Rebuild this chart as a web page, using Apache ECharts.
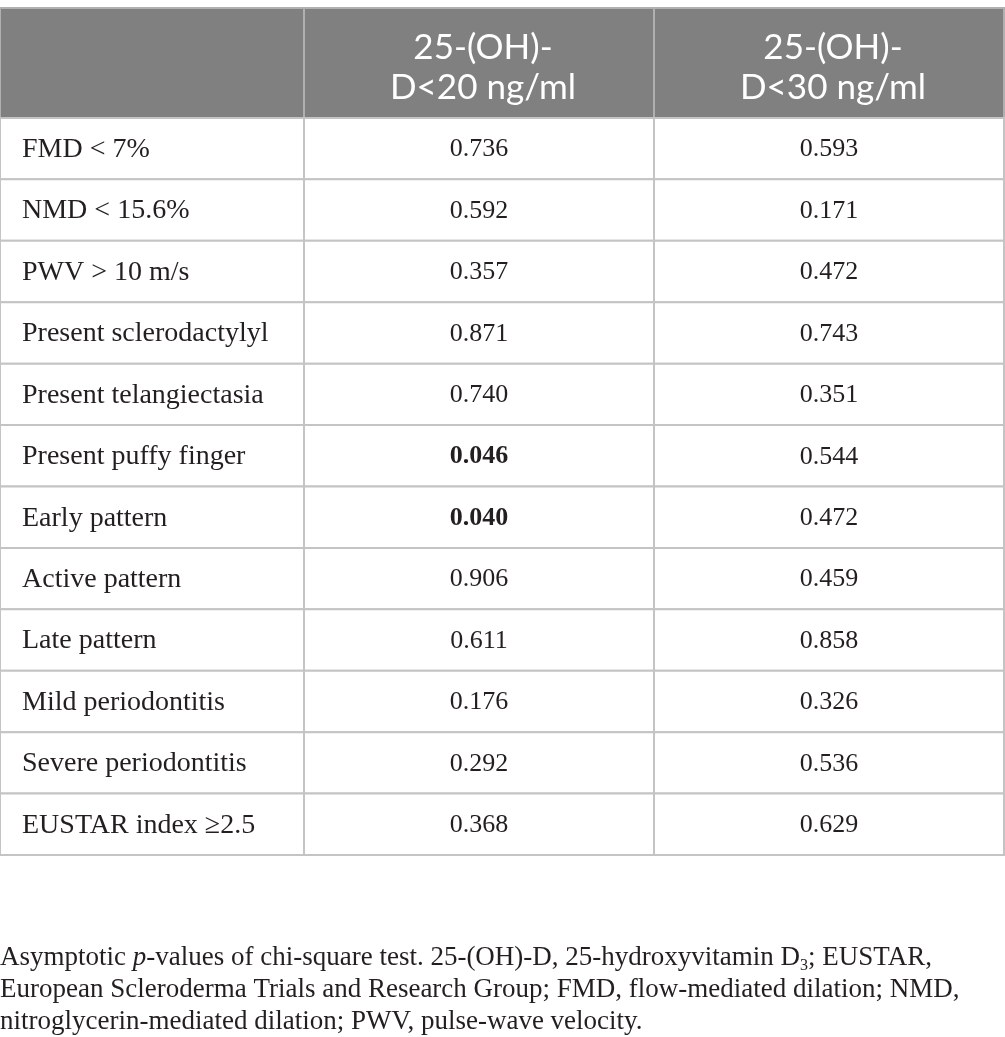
<!DOCTYPE html>
<html>
<head>
<meta charset="utf-8">
<script src="https://cdn.jsdelivr.net/npm/echarts@6/dist/echarts.min.js"></script>
<style>
html, body { margin: 0; padding: 0; background: #fff; }
#main { width: 1005px; height: 1037px; }
</style>
</head>
<body>
<div id="main"></div>
<script>
// table content
const columns = ['25-(OH)-\nD<20 ng/ml', '25-(OH)-\nD<30 ng/ml'];
const rowLabels = [
	'FMD < 7%', 'NMD < 15.6%', 'PWV > 10 m/s', 'Present sclerodactylyl',
	'Present telangiectasia', 'Present puffy finger', 'Early pattern',
	'Active pattern', 'Late pattern', 'Mild periodontitis',
	'Severe periodontitis', 'EUSTAR index \u22652.5'
];
const pBelow20 = ['0.736', '0.592', '0.357', '0.871', '0.740', '0.046', '0.040', '0.906', '0.611', '0.176', '0.292', '0.368'];
const pBelow30 = ['0.593', '0.171', '0.472', '0.743', '0.351', '0.544', '0.472', '0.459', '0.858', '0.326', '0.536', '0.629'];
const significant = 0.05;

// layout (axis units)
const colEdges = [0, 304, 654, 1004];
const headerSpan = 1.79;

const serif = '"Liberation Serif", "DejaVu Serif", serif';
const sans = 'Lato, "Open Sans", sans-serif';
const lineColor = '#c4c4c4';

let cells = [];
rowLabels.forEach(function (label, r) {
	cells.push([0, r, label, 0]);
	cells.push([1, r, pBelow20[r], parseFloat(pBelow20[r]) < significant ? 1 : 0]);
	cells.push([2, r, pBelow30[r], parseFloat(pBelow30[r]) < significant ? 1 : 0]);
});
let headerCells = [[0, -headerSpan, ''], [1, -headerSpan, columns[0]], [2, -headerSpan, columns[1]]];

function renderBody(params, api) {
	let c = api.value(0), r = api.value(1);
	let p0 = api.coord([colEdges[c], r]);
	let p1 = api.coord([colEdges[c + 1], r + 1]);
	let w = p1[0] - p0[0], h = p1[1] - p0[1];
	let item = cells[params.dataIndex];
	let left = c === 0;
	return {
		type: 'group',
		children: [{
			type: 'rect',
			shape: { x: p0[0], y: p0[1], width: w, height: h },
			style: { fill: '#fff', stroke: lineColor, lineWidth: 2 }
		}, {
			type: 'text',
			x: left ? p0[0] + 22 : p0[0] + w / 2,
			y: p0[1] + h / 2 + 1,
			style: {
				text: item[2],
				fill: '#231f20',
				font: (item[3] ? 'bold ' : '') + (left ? '28px ' : '26px ') + serif,
				align: left ? 'left' : 'center',
				verticalAlign: 'middle'
			}
		}]
	};
}

function renderHeader(params, api) {
	let c = api.value(0), r = api.value(1);
	let p0 = api.coord([colEdges[c], r]);
	let p1 = api.coord([colEdges[c + 1], 0]);
	let w = p1[0] - p0[0], h = p1[1] - p0[1];
	return {
		type: 'group',
		children: [{
			type: 'rect',
			shape: { x: p0[0], y: p0[1], width: w, height: h },
			style: { fill: '#808080', stroke: '#b0b0b0', lineWidth: 2 }
		}, {
			type: 'text',
			x: p0[0] + w / 2 + 4,
			y: p0[1] + h / 2 + 5,
			style: {
				text: headerCells[params.dataIndex][2],
				fill: '#fff',
				font: '35px ' + sans,
				lineHeight: 40,
				align: 'center',
				verticalAlign: 'middle'
			}
		}]
	};
}

const chart = echarts.init(document.getElementById('main'));
chart.setOption({
	animation: false,
	grid: { left: 0, top: 8, width: 1004, height: 847 },
	xAxis: { type: 'value', min: 0, max: 1004, show: false },
	yAxis: { type: 'value', min: -headerSpan, max: rowLabels.length, inverse: true, show: false },
	title: {
		left: 0,
		top: 942,
		padding: 0,
		text: '{t|Asymptotic }{i|p}{t|-values of chi-square test. 25-(OH)-D, 25-hydroxyvitamin D}{s|3}{t|; EUSTAR,}\n' +
			'{t|European Scleroderma Trials and Research Group; FMD, flow-mediated dilation; NMD,}\n' +
			'{t|nitroglycerin-mediated dilation; PWV, pulse-wave velocity.}',
		textStyle: {
			fontWeight: 'normal',
			rich: {
				t: { fontFamily: serif, fontSize: 27, fontWeight: 'normal', color: '#231f20', lineHeight: 32 },
				i: { fontFamily: serif, fontSize: 27, fontWeight: 'normal', fontStyle: 'italic', color: '#231f20', lineHeight: 32 },
				s: { fontFamily: serif, fontSize: 16, fontWeight: 'normal', color: '#231f20', lineHeight: 32, verticalAlign: 'bottom', padding: [12, 0, 0, 0] }
			}
		}
	},
	series: [{
		type: 'custom',
		renderItem: renderHeader,
		data: headerCells
	}, {
		type: 'custom',
		renderItem: renderBody,
		data: cells.map(function (d) { return [d[0], d[1]]; })
	}]
});
</script>
</body>
</html>
